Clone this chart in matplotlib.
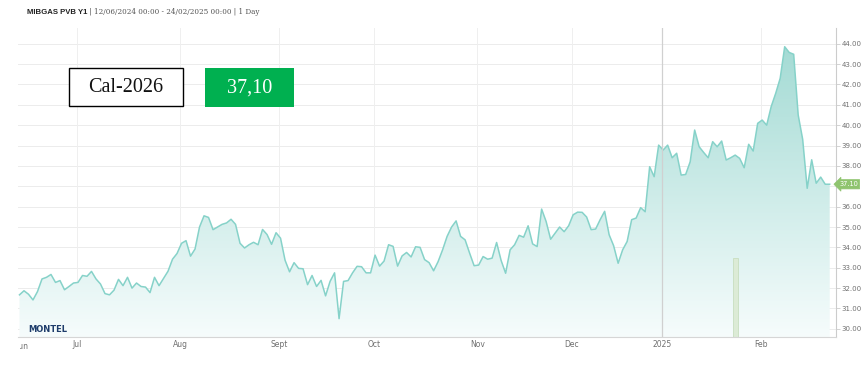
import numpy as np
import pandas as pd
import matplotlib
matplotlib.use("Agg")
import matplotlib.pyplot as plt
from matplotlib.patches import Rectangle
from matplotlib.colors import LinearSegmentedColormap
from matplotlib.transforms import Bbox, TransformedBbox

# ---------------- data ----------------
start_date = "2024-06-12"
end_date = "2025-02-24"
holidays = ["2024-12-25", "2024-12-26", "2025-01-01"]

values = [
    31.67, 31.87, 31.70, 31.42, 31.83, 32.45, 32.53, 32.67, 32.28, 32.37,
    31.92, 32.08, 32.25, 32.28, 32.62, 32.58, 32.82, 32.45, 32.20, 31.73,
    31.67, 31.90, 32.43, 32.12, 32.53, 32.00, 32.25, 32.08, 32.05, 31.78,
    32.53, 32.12, 32.47, 32.83, 33.42, 33.70, 34.20, 34.33, 33.57, 33.92,
    35.00, 35.55, 35.47, 34.87, 35.00, 35.13, 35.20, 35.38, 35.13, 34.20,
    33.97, 34.13, 34.25, 34.13, 34.88, 34.63, 34.15, 34.72, 34.45, 33.37,
    32.80, 33.25, 32.97, 32.95, 32.17, 32.62, 32.08, 32.38, 31.62, 32.33,
    32.75, 30.50, 32.33, 32.37, 32.75, 33.07, 33.05, 32.75, 32.75, 33.62,
    33.08, 33.33, 34.13, 34.05, 33.08, 33.58, 33.75, 33.53, 34.03, 34.00,
    33.40, 33.25, 32.85, 33.30, 33.88, 34.54, 35.00, 35.30, 34.54, 34.37,
    33.72, 33.10, 33.13, 33.55, 33.42, 33.47, 34.24, 33.36, 32.73, 33.88,
    34.13, 34.59, 34.50, 35.06, 34.17, 34.04, 35.88, 35.27, 34.40, 34.70,
    35.00, 34.77, 35.06, 35.60, 35.73, 35.72, 35.49, 34.87, 34.90, 35.36,
    35.77, 34.62, 34.08, 33.22, 33.88, 34.29, 35.36, 35.44, 35.95, 35.75,
    37.96, 37.47, 39.02, 38.78, 39.02, 38.40, 38.62, 37.55, 37.58, 38.20,
    39.76, 38.94, 38.66, 38.40, 39.19, 38.94, 39.22, 38.29, 38.40, 38.53,
    38.37, 37.91, 39.06, 38.73, 40.09, 40.25, 40.00, 40.91, 41.56, 42.30,
    43.85, 43.57, 43.48, 40.50, 39.30, 36.90, 38.30, 37.15, 37.45, 37.10, 37.10,
]

bar_dates = ["2025-01-24"]
bar_values = [33.47]

month_starts = ["2024-07-01", "2024-08-01", "2024-09-01", "2024-10-01",
                "2024-11-01", "2024-12-01", "2025-01-01", "2025-02-01"]
month_labels = ["Jul", "Aug", "Sept", "Oct", "Nov", "Dec", "2025", "Feb"]

y_ticks = [30, 31, 32, 33, 34, 35, 36, 37, 38, 39, 40, 41, 42, 43, 44]
last_label = "37.10"
title_bold = "MIBGAS PVB Y1"
title_rest = " | 12/06/2024 00:00 - 24/02/2025 00:00 | 1 Day"
box_label = "Cal-2026"
box_value = "37,10"

# ---------------- layout ----------------
W, H = 868, 369
fig = plt.figure(figsize=(W / 100, H / 100), dpi=100)
fig.patch.set_facecolor("white")

def fx(px):
    return px / W

def fy(py):
    return 1 - py / H

ax_l, ax_r, ax_t, ax_b = 18, 836, 28, 337
ax = fig.add_axes([fx(ax_l), fy(ax_b), fx(ax_r - ax_l), (ax_b - ax_t) / H])

dates = pd.bdate_range(start_date, end_date)
dates = dates.drop(pd.to_datetime(holidays))
n = min(len(dates), len(values))
dates = dates[:n]
vals = np.array(values[:n])
x = np.arange(n)

ymin, ymax = 29.6, 44.77
xmin, xmax = -0.33, 181.4

# gradient fill under line
poly = ax.fill_between(x, vals, ymin, color="none", lw=0)
cmap = LinearSegmentedColormap.from_list("g", ["#f6fcfc", "#9fd9d2"])
grad = np.linspace(0, 1, 256).reshape(-1, 1)
im = ax.imshow(grad, extent=[xmin, xmax, ymin, ymax], origin="lower",
               aspect="auto", cmap=cmap, zorder=1, interpolation="bicubic")
im.set_clip_path(poly.get_paths()[0], transform=ax.transData)

ax.plot(x, vals, color="#86d2c9", lw=1.1, zorder=3)

# bar
bar_pos = [dates.searchsorted(pd.Timestamp(d)) for d in bar_dates]
ax.bar(bar_pos, [v - ymin for v in bar_values], bottom=ymin, width=1.1,
       color="#dcebd6", edgecolor="#c8dec0", lw=0.6, zorder=2)

ax.set_xlim(xmin, xmax)
ax.set_ylim(ymin, ymax)

# grid
for yv in y_ticks:
    ax.axhline(yv, color="#ececec", lw=0.7, zorder=0)
tick_pos = [dates.searchsorted(pd.Timestamp(m)) - 0.3 for m in month_starts]
for p, lab in zip(tick_pos, month_labels):
    if lab == "2025":
        ax.axvline(p, color="#d0d0d0", lw=0.9, zorder=4)
    else:
        ax.axvline(p, color="#efefef", lw=0.7, zorder=0)

ax.set_xticks(tick_pos)
ax.set_xticklabels(month_labels)
ax.tick_params(axis="x", length=0, pad=2.5, labelsize=5.5, labelcolor="#707070")

ax.yaxis.tick_right()
ax.set_yticks(y_ticks)
# the 37.00 label is hidden behind the last-value tag in the reference
ax.set_yticklabels(["" if v == 37 else f"{v:.2f}" for v in y_ticks])
ax.tick_params(axis="y", length=3, width=0.6, color="#cccccc", pad=1,
               labelsize=5, labelcolor="#707070")

for s in ["top", "left"]:
    ax.spines[s].set_visible(False)
ax.spines["right"].set_color("#cccccc")
ax.spines["right"].set_linewidth(0.8)
ax.spines["bottom"].set_color("#d6d6d6")
ax.spines["bottom"].set_linewidth(0.8)

# clipped "Jun" label at the very start
tj = ax.text(0.55, -0.016, "Jun", transform=ax.get_xaxis_transform(),
             ha="center", va="top", fontsize=5.5, color="#707070")
tj.set_clip_box(TransformedBbox(Bbox.from_extents(fx(19.5), 0, 1, 1), fig.transFigure))
tj.set_clip_on(True)

# last value tag
ax.annotate(last_label, xy=(1.0, vals[-1]), xycoords=("axes fraction", "data"),
            xytext=(9, 0), textcoords="offset points", ha="center", va="center",
            fontsize=4.8, color="white", zorder=6, annotation_clip=False,
            bbox=dict(boxstyle="larrow,pad=0.25", fc="#8fc46f", ec="#8fc46f", lw=0.5))

# title
t1 = fig.text(fx(27), fy(12), title_bold, fontsize=5.6, fontweight="bold",
              family="Liberation Sans", color="#222222", va="center", ha="left")
plt.annotate(title_rest, xy=(1, 0.5), xycoords=t1, va="center", ha="left",
             fontsize=5.2, family="DejaVu Serif", color="#555555")

# MONTEL logo
fig.text(fx(28), fy(329), "MONTEL", fontsize=6, fontweight="bold",
         family="DejaVu Sans", color="#1f3d6b", va="center", ha="left")

# boxes
fig.patches.append(Rectangle((fx(69), fy(106)), fx(183 - 69), (106 - 68) / H,
                             transform=fig.transFigure, fc="white", ec="black",
                             lw=1.0, zorder=10))
fig.text(fx(126), fy(87.5), box_label, fontsize=14.5, family="Liberation Serif",
         color="#111111", ha="center", va="center", zorder=11)
fig.patches.append(Rectangle((fx(205), fy(107)), fx(294 - 205), (107 - 68) / H,
                             transform=fig.transFigure, fc="#00b050", ec="none",
                             zorder=10))
fig.text(fx(249.5), fy(88), box_value, fontsize=14.5, family="Liberation Serif",
         color="white", ha="center", va="center", zorder=11)

fig.savefig("out.png", dpi=100, facecolor="white")
